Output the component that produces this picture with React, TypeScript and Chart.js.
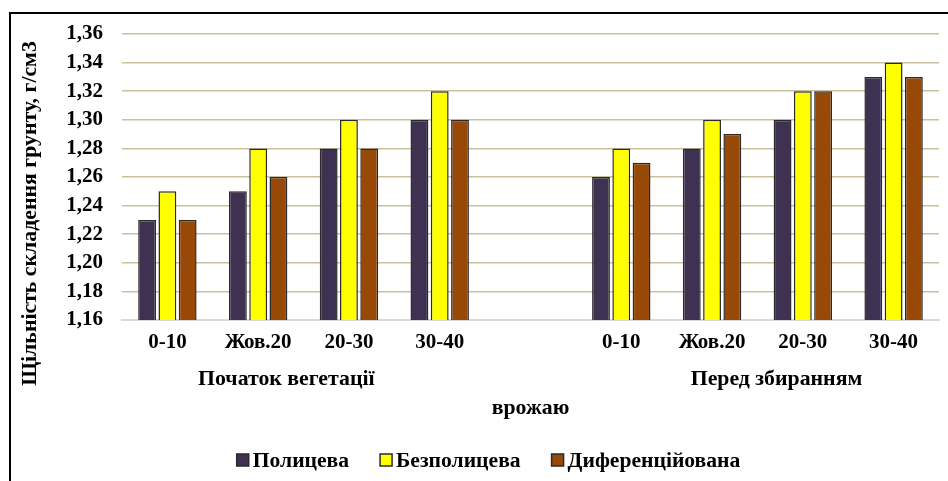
import React, { useEffect, useRef } from "react";
import { Chart, registerables } from "chart.js";

Chart.register(...registerables);

const categories = ["0-10", "Жов.20", "20-30", "30-40", "", "0-10", "Жов.20", "20-30", "30-40"];
const seriesNames = ["Полицева", "Безполицева", "Диференційована"];
const polytseva = [1.23, 1.25, 1.28, 1.3, null, 1.26, 1.28, 1.3, 1.33];
const bezpolytseva = [1.25, 1.28, 1.3, 1.32, null, 1.28, 1.3, 1.32, 1.34];
const dyferentsiyovana = [1.23, 1.26, 1.28, 1.3, null, 1.27, 1.29, 1.32, 1.33];
const seriesColors = ["#3F3151", "#FFFF00", "#984807"];
const groupLabels = ["Початок вегетації", "Перед збиранням"];
const groupCenters = [1.31, 6.71];
const xTitle = "врожаю";
const yTitle = "Щільність складення грунту, г/см3";
const yMin = 1.16;
const yMax = 1.36;
const yStep = 0.02;

const FONT = "'Liberation Serif', 'Times New Roman', serif";
const FS = 21;

const extraText = {
  id: "extraText",
  afterDraw(chart: any) {
    const ctx = chart.ctx;
    const xs = chart.scales.x;
    const area = chart.chartArea;
    ctx.save();
    ctx.fillStyle = "#000";
    ctx.font = `bold 21.8px ${FONT}`;
    ctx.textAlign = "center";
    ctx.textBaseline = "middle";
    groupLabels.forEach((t, i) => {
      ctx.fillText(t, xs.getPixelForValue(groupCenters[i]), area.bottom + 59);
    });
    ctx.fillText(xTitle, (area.left + area.right) / 2, area.bottom + 88);

    // legend
    ctx.font = `bold 21.6px ${FONT}`;
    ctx.textAlign = "left";
    const box = 12;
    const gapText = 4;
    const gapItem = 31;
    const widths = seriesNames.map((n) => ctx.measureText(n).width);
    const total = widths.reduce((a, w) => a + box + gapText + w, 0) + gapItem * (seriesNames.length - 1);
    let x = 488.5 - total / 2;
    const cy = 460;
    seriesNames.forEach((n, i) => {
      ctx.fillStyle = seriesColors[i];
      ctx.fillRect(x, cy - box / 2, box, box);
      ctx.strokeStyle = "#2a2a2a";
      ctx.lineWidth = 1.5;
      ctx.strokeRect(x, cy - box / 2, box, box);
      ctx.fillStyle = "#000";
      ctx.fillText(n, x + box + gapText, cy + 1);
      x += box + gapText + widths[i] + gapItem;
    });

    ctx.font = `bold 21.8px ${FONT}`;
    ctx.textAlign = "center";
    ctx.translate(30, 213.5);
    ctx.rotate(-Math.PI / 2);
    ctx.fillText(yTitle, 0, 0);
    ctx.restore();
  },
};

export default function App() {
  const ref = useRef<HTMLCanvasElement>(null);
  useEffect(() => {
    if (!ref.current) return;
    const data = [polytseva, bezpolytseva, dyferentsiyovana];
    const chart = new Chart(ref.current, {
      type: "bar",
      data: {
        labels: categories,
        datasets: seriesNames.map((name, i) => ({
          label: name,
          data: data[i],
          backgroundColor: seriesColors[i],
          borderColor: "#2a2a2a",
          borderWidth: 1.5,
          categoryPercentage: 0.67,
          barPercentage: 0.88,
        })),
      },
      options: {
        responsive: false,
        animation: false,
        devicePixelRatio: 1,
        layout: { padding: { left: 0, right: 9, top: 34, bottom: 0 } },
        plugins: {
          tooltip: { enabled: false },
          legend: { display: false },
        },
        scales: {
          x: {
            grid: { display: false, drawTicks: false },
            border: { display: true, color: "#D9D9D9", width: 2 },
            ticks: {
              font: { family: FONT, size: FS, weight: "bold" },
              color: "#000",
              padding: 10,
              autoSkip: false,
              maxRotation: 0,
            },
            afterFit: (s: any) => {
              s.height = 161;
            },
          },
          y: {
            min: yMin,
            max: yMax,
            grid: { color: "#C9C0A0", lineWidth: 1.5, drawTicks: false },
            border: { display: false },
            ticks: {
              stepSize: yStep,
              font: { family: FONT, size: FS, weight: "bold" },
              color: "#000",
              padding: 19,
              callback: (v: any) => Number(v).toFixed(2).replace(".", ","),
            },
            afterFit: (s: any) => {
              s.width = 122;
            },
          },
        },
      },
      plugins: [extraText],
    });
    return () => chart.destroy();
  }, []);
  return (
    <div style={{ position: "fixed", left: 0, top: 0, width: 948, height: 481, background: "#fff", overflow: "hidden" }}>
      <canvas ref={ref} width={948} height={481} style={{ position: "absolute", left: 0, top: 0 }} />
      <div
        style={{
          position: "absolute",
          left: 9,
          top: 12,
          width: 960,
          height: 500,
          borderTop: "2px solid #000",
          borderLeft: "2px solid #000",
          pointerEvents: "none",
        }}
      />
    </div>
  );
}
